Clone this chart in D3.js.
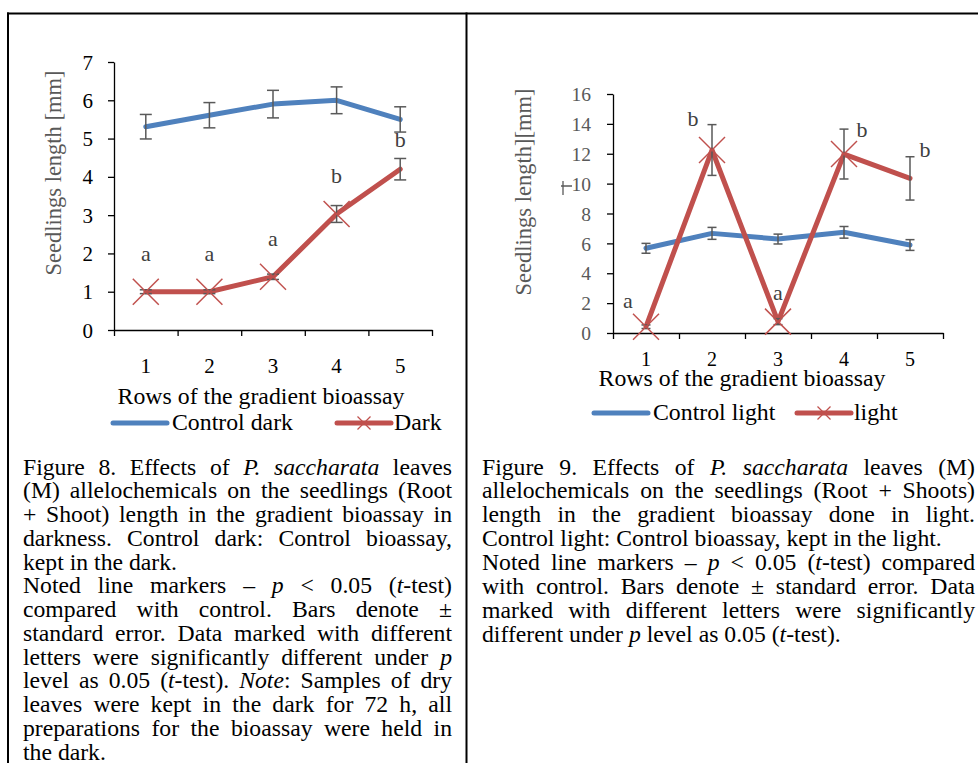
<!DOCTYPE html>
<html><head><meta charset="utf-8">
<script src="https://cdn.jsdelivr.net/npm/d3@7"></script>
<style>html,body{margin:0;padding:0;background:#fff;} svg{display:block;}</style>
</head><body>
<svg id="c" width="978" height="763"></svg>
<script>
// ---------- DATA ----------
const rows = [1, 2, 3, 4, 5];
// Figure 8 (dark)
const controlDark    = [5.31, 5.61, 5.90, 6.00, 5.50];
const controlDarkErr = [0.32, 0.33, 0.36, 0.35, 0.33];
const dark           = [1.00, 1.00, 1.39, 3.03, 4.20];
const darkErr        = [0.05, 0.05, 0.07, 0.22, 0.28];
const darkMarked     = [true, true, true, true, false];
const darkLetters    = ["a", "a", "a", "b", "b"];
const darkTicks      = [0, 1, 2, 3, 4, 5, 6, 7];
// Figure 9 (light)
const controlLight    = [5.67, 6.67, 6.29, 6.74, 5.89];
const controlLightErr = [0.33, 0.40, 0.33, 0.39, 0.36];
const light           = [0.42, 12.25, 0.76, 11.98, 10.35];
const lightErr        = [0.12, 1.70, 0.20, 1.67, 1.45];
const lightMarked     = [true, true, true, true, false];
const lightLetters    = ["a", "b", "a", "b", "b"];
const lightTicks      = [0, 2, 4, 6, 8, 10, 12, 14, 16];

const xTitle = "Rows of the gradient bioassay";
const captionLeft = [
  ["Figure 8. Effects of _P._ _saccharata_ leaves", 1],
  ["(M) allelochemicals on the seedlings (Root", 1],
  ["+ Shoot) length in the gradient bioassay in", 1],
  ["darkness. Control dark: Control bioassay,", 1],
  ["kept in the dark.", 0],
  ["Noted line markers – _p_ < 0.05 (_t_-test)", 1],
  ["compared with control. Bars denote ±", 1],
  ["standard error. Data marked with different", 1],
  ["letters were significantly different under _p_", 1],
  ["level as 0.05 (_t_-test). _Note_: Samples of dry", 1],
  ["leaves were kept in the dark for 72 h, all", 1],
  ["preparations for the bioassay were held in", 1],
  ["the dark.", 0]
];
const captionRight = [
  ["Figure 9. Effects of _P._ _saccharata_ leaves (M)", 1],
  ["allelochemicals on the seedlings (Root + Shoots)", 1],
  ["length in the gradient bioassay done in light.", 1],
  ["Control light: Control bioassay, kept in the light.", 0],
  ["Noted line markers – _p_ < 0.05 (_t_-test) compared", 1],
  ["with control. Bars denote ± standard error. Data", 1],
  ["marked with different letters were significantly", 1],
  ["different under _p_ level as 0.05 (_t_-test).", 0]
];

// ---------- STYLE ----------
const FONT = "'Liberation Serif','Times New Roman',Times,serif";
const BLUE = "#4F81BD", RED = "#C0504D", GREY = "#595959";
const svg = d3.select("#c").attr("font-family", FONT);

// table borders
svg.append("line").attr("x1", 7).attr("x2", 978).attr("y1", 13.5).attr("y2", 13.5).attr("stroke", "#000").attr("stroke-width", 2);
svg.append("line").attr("x1", 8).attr("x2", 8).attr("y1", 12.5).attr("y2", 763).attr("stroke", "#000").attr("stroke-width", 2);
svg.append("line").attr("x1", 466.5).attr("x2", 466.5).attr("y1", 12.5).attr("y2", 763).attr("stroke", "#000").attr("stroke-width", 2);

function chart(cfg) {
  const g = svg.append("g");
  const xb = d3.scaleBand().domain(rows).range(cfg.xr).padding(0);
  const xl = d3.scaleLinear().domain([0, rows.length]).range(cfg.xr);
  const y = d3.scaleLinear().domain([0, cfg.ymax]).range(cfg.yr);
  const cx = r => xb(r) + xb.bandwidth() / 2;

  // y axis
  const ya = g.append("g").attr("transform", `translate(${cfg.xr[0]},0)`)
    .call(d3.axisLeft(y).tickValues(cfg.ticks).tickFormat(d3.format("d"))
      .tickSize(6).tickPadding(cfg.yPad).tickSizeOuter(0));
  ya.attr("font-family", FONT);
  ya.select(".domain").attr("stroke", "#000").attr("stroke-width", 1.3);
  ya.selectAll(".tick line").attr("stroke", "#000").attr("stroke-width", 1.3);
  ya.selectAll(".tick text").attr("font-size", cfg.yTickFs).attr("fill", cfg.yTickColor)
    .attr("font-family", FONT).attr("dy", "0.34em");

  // x axis boundary ticks (no labels)
  const xa = g.append("g").attr("transform", `translate(0,${cfg.yr[0]})`)
    .call(d3.axisBottom(xl).tickValues(d3.range(rows.length + 1)).tickSize(6).tickFormat("").tickSizeOuter(0));
  xa.select(".domain").attr("stroke", "#000").attr("stroke-width", 1.3);
  xa.selectAll(".tick line").attr("stroke", "#000").attr("stroke-width", 1.3);
  xa.selectAll(".tick text").remove();
  // x labels at category centres
  const xa2 = g.append("g").attr("transform", `translate(0,${cfg.yr[0]})`)
    .call(d3.axisBottom(xb).tickSize(0));
  xa2.attr("font-family", FONT);
  xa2.select(".domain").remove();
  xa2.selectAll(".tick text").attr("font-size", cfg.xTickFs).attr("fill", "#000")
    .attr("font-family", FONT).attr("y", cfg.xLabOff).attr("dy", null);

  // titles
  g.append("text").attr("x", cfg.xTitleX).attr("y", cfg.xTitleY).attr("text-anchor", "middle")
    .attr("font-size", 23.8).attr("fill", "#000").text(xTitle);
  g.append("text").attr("transform", `translate(${cfg.yTitleX},${cfg.yTitleY}) rotate(-90)`)
    .attr("text-anchor", "middle").attr("font-size", cfg.yTitleFs).attr("fill", GREY).text(cfg.yTitle);

  const line = d3.line().x((d, i) => cx(rows[i])).y(d => y(d));
  g.append("path").attr("d", line(cfg.ctrl)).attr("fill", "none").attr("stroke", BLUE)
    .attr("stroke-width", 5).attr("stroke-linejoin", "round").attr("stroke-linecap", "round");
  g.append("path").attr("d", line(cfg.trt)).attr("fill", "none").attr("stroke", RED)
    .attr("stroke-width", 5).attr("stroke-linejoin", "round").attr("stroke-linecap", "round");

  // error bars
  function errs(vals, es) {
    const eg = g.append("g").attr("stroke", GREY).attr("stroke-width", 1.5).attr("fill", "none");
    vals.forEach((v, i) => {
      const x = cx(rows[i]), y1 = y(v + es[i]), y2 = y(v - es[i]);
      eg.append("line").attr("x1", x).attr("x2", x).attr("y1", y1).attr("y2", y2);
      eg.append("line").attr("x1", x - cfg.cap).attr("x2", x + cfg.cap).attr("y1", y1).attr("y2", y1);
      eg.append("line").attr("x1", x - cfg.cap).attr("x2", x + cfg.cap).attr("y1", y2).attr("y2", y2);
    });
  }
  errs(cfg.ctrl, cfg.ctrlErr);
  errs(cfg.trt, cfg.trtErr);

  // X markers
  const mg = g.append("g").attr("stroke", RED).attr("stroke-width", 1.5);
  cfg.trt.forEach((v, i) => {
    if (!cfg.marked[i]) return;
    const x = cx(rows[i]), yy = y(v), s = 13;
    mg.append("line").attr("x1", x - s).attr("x2", x + s).attr("y1", yy - s).attr("y2", yy + s);
    mg.append("line").attr("x1", x - s).attr("x2", x + s).attr("y1", yy + s).attr("y2", yy - s);
  });

  // letters
  cfg.letters.forEach((l, i) => {
    g.append("text").attr("x", cx(rows[i]) + cfg.ldx[i]).attr("y", y(cfg.trt[i]) + cfg.ldy[i])
      .attr("text-anchor", "middle").attr("font-size", 22).attr("fill", "#404040").text(l);
  });

  // legend
  const L = cfg.leg;
  g.append("line").attr("x1", L.x1).attr("x2", L.x1 + 54).attr("y1", L.y).attr("y2", L.y)
    .attr("stroke", BLUE).attr("stroke-width", 5).attr("stroke-linecap", "round");
  g.append("text").attr("x", L.x1 + 59).attr("y", L.y + 7).attr("font-size", 23.8).text(L.t1);
  g.append("line").attr("x1", L.x2).attr("x2", L.x2 + 54).attr("y1", L.y).attr("y2", L.y)
    .attr("stroke", RED).attr("stroke-width", 5).attr("stroke-linecap", "round");
  const mx = L.x2 + 27, s2 = 6.5;
  g.append("line").attr("x1", mx - s2).attr("x2", mx + s2).attr("y1", L.y - s2).attr("y2", L.y + s2).attr("stroke", RED).attr("stroke-width", 1.3);
  g.append("line").attr("x1", mx - s2).attr("x2", mx + s2).attr("y1", L.y + s2).attr("y2", L.y - s2).attr("stroke", RED).attr("stroke-width", 1.3);
  g.append("text").attr("x", L.x2 + 57).attr("y", L.y + 7).attr("font-size", 23.8).text(L.t2);
  return g;
}

chart({
  xr: [114, 432], yr: [330, 62], ymax: 7, ticks: darkTicks,
  yPad: 15, yTickFs: 21, yTickColor: "#000", xTickFs: 21, xLabOff: 43,
  xTitleX: 261, xTitleY: 404, yTitleX: 61, yTitleY: 173, yTitleFs: 22.5,
  yTitle: "Seedlings length [mm]",
  ctrl: controlDark, ctrlErr: controlDarkErr, trt: dark, trtErr: darkErr,
  marked: darkMarked, letters: darkLetters, cap: 6,
  ldx: [0, 0, 0, 0, 0], ldy: [-31, -31, -31, -31, -22],
  leg: { x1: 113, x2: 337, y: 423, t1: "Control dark", t2: "Dark" }
});

const gR = chart({
  xr: [613, 943], yr: [333, 94], ymax: 16, ticks: lightTicks,
  yPad: 16, yTickFs: 19.5, yTickColor: GREY, xTickFs: 20, xLabOff: 33,
  xTitleX: 742, xTitleY: 386, yTitleX: 531, yTitleY: 192, yTitleFs: 22.5,
  yTitle: "Seedlings length][mm]",
  ctrl: controlLight, ctrlErr: controlLightErr, trt: light, trtErr: lightErr,
  marked: lightMarked, letters: lightLetters, cap: 4.5,
  ldx: [-18, -19, 0, 18, 15], ldy: [-19, -24, -22, -17, -21],
  leg: { x1: 594, x2: 797, y: 413, t1: "Control light", t2: "light" }
});
// stray error-bar artifact next to the "10" tick label
gR.append("path").attr("d", "M561,186H572M563,181V195").attr("stroke", GREY).attr("stroke-width", 1.3).attr("fill", "none");

// ---------- captions ----------
function caption(lines, x0, width, y0, lh, fs) {
  const g = svg.append("g").attr("font-size", fs).attr("fill", "#000");
  lines.forEach(([txt, just], i) => {
    const words = txt.split(" ");
    const els = words.map(w => {
      const t = g.append("text").attr("y", y0 + i * lh);
      w.split("_").forEach((p, k) => {
        if (p) t.append("tspan").attr("font-style", k % 2 ? "italic" : null).text(p);
      });
      return t;
    });
    const widths = els.map(e => e.node().getComputedTextLength());
    const total = d3.sum(widths);
    const gap = just && words.length > 1 ? (width - total) / (words.length - 1) : fs * 0.25;
    let x = x0;
    els.forEach((e, k) => { e.attr("x", x); x += widths[k] + gap; });
  });
}
caption(captionLeft, 23, 429, 474.5, 23.75, 23.7);
caption(captionRight, 482, 493, 474.5, 23.9, 23.7);
</script>
</body></html>
